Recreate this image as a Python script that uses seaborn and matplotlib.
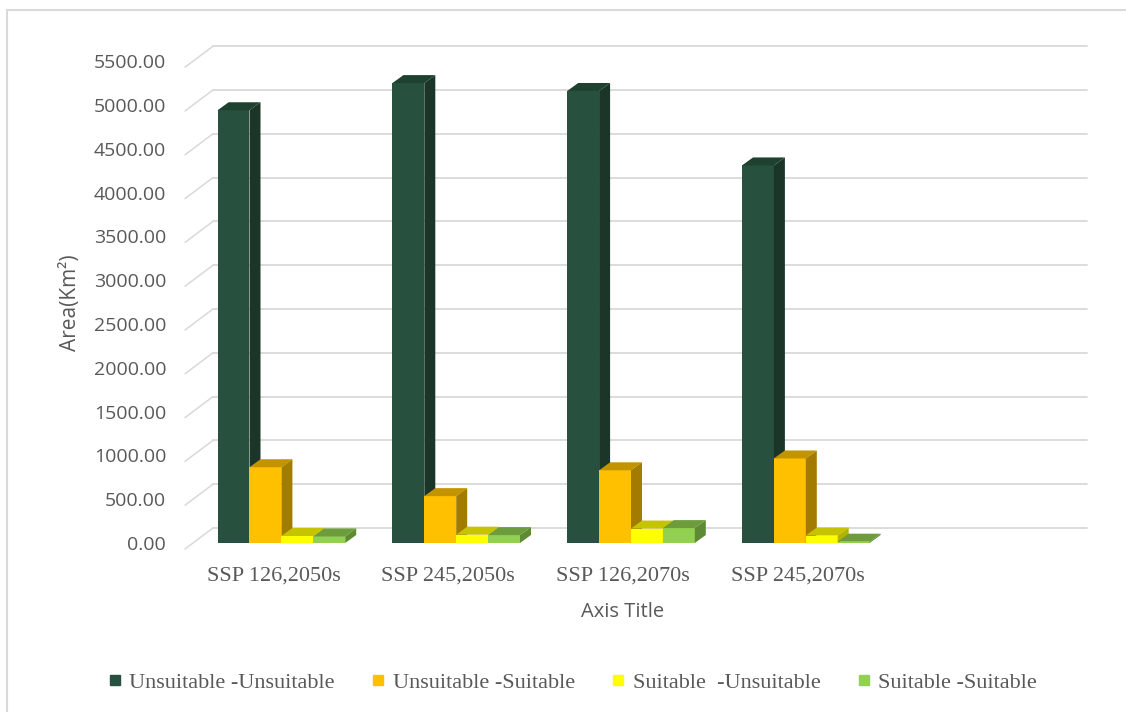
import numpy as np
import pandas as pd
import matplotlib
matplotlib.use("Agg")
import matplotlib.pyplot as plt
import seaborn as sns
from matplotlib.patches import Polygon, Rectangle
from matplotlib.lines import Line2D
from matplotlib.transforms import IdentityTransform, ScaledTranslation
from matplotlib.font_manager import FontProperties

# ---- data -------------------------------------------------------------
scenarios = ["SSP 126,2050s", "SSP 245,2050s", "SSP 126,2070s", "SSP 245,2070s"]
classes = ["Unsuitable -Unsuitable", "Unsuitable -Suitable",
           "Suitable  -Unsuitable", "Suitable -Suitable"]
unsuit_unsuit = [4940, 5250, 5160, 4310]
unsuit_suit = [865, 535, 830, 965]
suit_unsuit = [80, 95, 165, 85]
suit_suit = [75, 90, 170, 15]
y_ticks = list(range(0, 5501, 500))

# ---- styling ----------------------------------------------------------
front_colors = ["#28503E", "#FFC000", "#FFFF00", "#92D050"]
top_colors = ["#1F4130", "#C49400", "#C6C300", "#6C9C3B"]
side_colors = ["#1B3628", "#A37B00", "#B4B200", "#5E8A33"]
grey_text = "#595959"
grid_color = "#D9D9D9"

sns.set_theme(style="white")
plt.rcParams["font.family"] = ["Open Sans", "DejaVu Sans"]

df = pd.DataFrame({
    "scenario": np.repeat(scenarios, len(classes)),
    "class": classes * len(scenarios),
    "area": np.column_stack([unsuit_unsuit, unsuit_suit,
                             suit_unsuit, suit_suit]).ravel(),
})

W, H = 1126, 712
fig = plt.figure(figsize=(W / 100, H / 100), dpi=100)
fig.patch.set_facecolor("white")
ax = fig.add_axes([194 / W, (H - 543) / H, 874 / W, (543 - 61.2) / H])
ax.set_facecolor("none")

sns.barplot(data=df, x="scenario", y="area", hue="class",
            order=scenarios, hue_order=classes, palette=front_colors,
            saturation=1, width=0.73, errorbar=None, legend=False,
            linewidth=0, ax=ax)

ax.set_xlim(-0.5, 4.5)
ax.set_ylim(0, 5500)
for s in ax.spines.values():
    s.set_visible(False)
ax.grid(False)

# axis ticks
ax.set_yticks(y_ticks)
ax.set_yticklabels([f"{v:.2f}" for v in y_ticks])
ax.tick_params(axis="y", length=0, pad=20, labelsize=14, labelcolor=grey_text)
ax.tick_params(axis="x", length=0, pad=17)
ax.set_xticks(range(len(scenarios)))
ax.set_xticklabels(scenarios, fontfamily="Liberation Serif", fontsize=16,
                   color=grey_text)
for lab in ax.get_xticklabels():
    lab.set_transform(lab.get_transform() +
                      ScaledTranslation(-8 / 100, 0, fig.dpi_scale_trans))

ax.set_xlabel("Axis Title", fontsize=14.5, color=grey_text, va="center")
ax.xaxis.set_label_coords((623 - 194) / 874, (543 - 612) / (543 - 61.2))
ax.set_ylabel("Area(Km²)", fontsize=15, color=grey_text, va="center")
ax.yaxis.set_label_coords((70 - 194) / 874, (543 - 303) / (543 - 61.2))

# ---- walls: back gridlines and side-wall diagonals ----------------------
ident = IdentityTransform()
back_dx, back_dy = 19, 15      # depth offset of the back wall (pixels)
front_dx, front_dy = -9, -6    # front edge of the side wall (pixels)
for v in y_ticks:
    xl, yv = ax.transData.transform((-0.5, v))
    xr, _ = ax.transData.transform((4.5, v))
    ax.add_line(Line2D([xl + back_dx, xr + back_dx], [yv + back_dy, yv + back_dy],
                       transform=ident, color=grid_color, lw=1.3,
                       zorder=0.5, clip_on=False))
    ax.add_line(Line2D([xl + front_dx, xl + back_dx], [yv + front_dy, yv + back_dy],
                       transform=ident, color=grid_color, lw=1.1,
                       zorder=0.5, clip_on=False))

# ---- 3D depth faces for every bar --------------------------------------
ddx, ddy = 11, 8
for i, cont in enumerate(ax.containers):
    z = 3 + i * 0.1
    for bar in cont:
        bar.set_zorder(z)
        x0, y0 = ax.transData.transform((bar.get_x(), 0))
        x1, y1 = ax.transData.transform((bar.get_x() + bar.get_width(),
                                         bar.get_height()))
        top = Polygon([(x0, y1), (x1, y1), (x1 + ddx, y1 + ddy), (x0 + ddx, y1 + ddy)],
                      closed=True, transform=ident, fc=top_colors[i], ec="none",
                      zorder=z, clip_on=False)
        side = Polygon([(x1, y0), (x1, y1), (x1 + ddx, y1 + ddy), (x1 + ddx, y0 + ddy)],
                       closed=True, transform=ident, fc=side_colors[i], ec="none",
                       zorder=z, clip_on=False)
        ax.add_patch(top)
        ax.add_patch(side)

# ---- legend -------------------------------------------------------------
handles = [Line2D([], [], marker="s", ls="none", markersize=6.5,
                  markerfacecolor=c, markeredgecolor=c) for c in front_colors]
fig.legend(handles, classes, loc="center", bbox_to_anchor=(0.509, 0.041),
           ncol=4, frameon=False,
           prop=FontProperties(family="Liberation Serif", size=16),
           handlelength=0.5, handletextpad=0.4, columnspacing=1.7,
           labelcolor=grey_text)

# chart-area border
fig.add_artist(Rectangle((7 / W, -0.1), 1.2, (1 - 10 / H) + 0.1,
                         transform=fig.transFigure, fill=False,
                         ec=grid_color, lw=1.5))

fig.savefig("out.png", dpi=100)
